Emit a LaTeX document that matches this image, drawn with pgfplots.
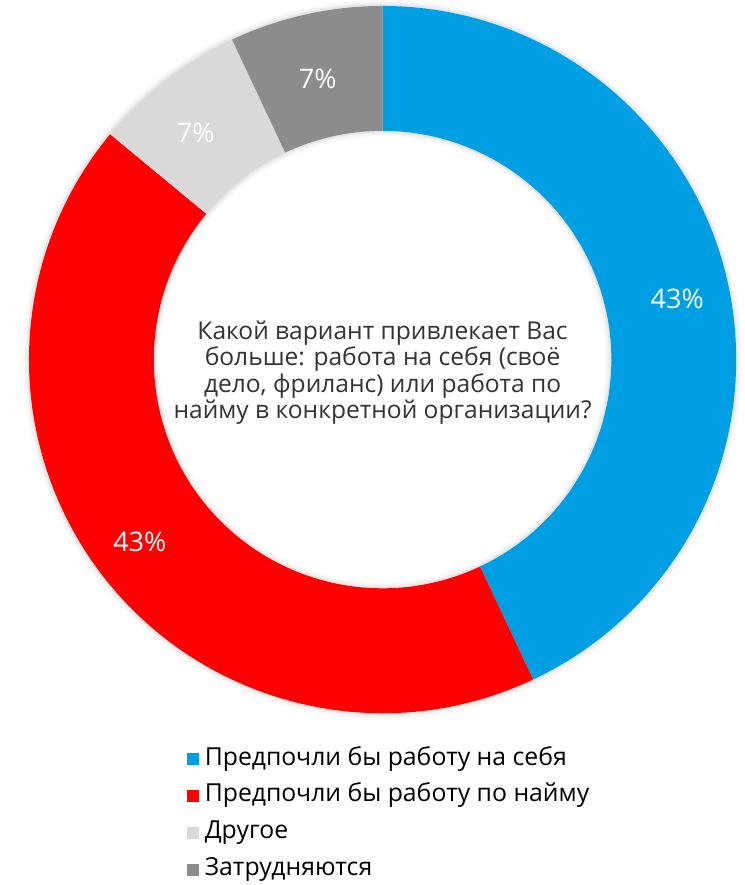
\documentclass[border=0pt]{standalone}
\usepackage{fontspec}
\setmainfont{Open Sans}
\usepackage{pgfplots}
\usepackage{pgfplotstable}
\pgfplotsset{compat=1.18}

\definecolor{cblue}{RGB}{0,158,227}
\definecolor{cred}{RGB}{255,0,0}
\definecolor{clight}{RGB}{217,217,217}
\definecolor{cdark}{RGB}{140,140,140}
\definecolor{ctext}{RGB}{51,51,51}

\pgfplotstableread{
value
43
43
7
7
}\piedata

\pgfplotstablegetelem{0}{value}\of\piedata \let\vA\pgfplotsretval
\pgfplotstablegetelem{1}{value}\of\piedata \let\vB\pgfplotsretval
\pgfplotstablegetelem{2}{value}\of\piedata \let\vC\pgfplotsretval
\pgfplotstablegetelem{3}{value}\of\piedata \let\vD\pgfplotsretval
\pgfmathsetmacro\aA{90}
\pgfmathsetmacro\aB{\aA-3.6*\vA}
\pgfmathsetmacro\aC{\aB-3.6*\vB}
\pgfmathsetmacro\aD{\aC-3.6*\vC}
\pgfmathsetmacro\aE{\aD-3.6*\vD}

% geometry in pixel units of the reference (1 px = 0.5 pt)
\def\cx{383}
\def\cy{526}
\def\ro{354}
\def\ri{229}

\newcommand\sector[3]{%
  \fill[#3] (axis cs:{\cx+\ro*cos(#1)},{\cy+\ro*sin(#1)})
    arc[start angle=#1,end angle=#2,radius=177pt]
    -- (axis cs:{\cx+\ri*cos(#2)},{\cy+\ri*sin(#2)})
    arc[start angle=#2,end angle=#1,radius=114.5pt] -- cycle;}
\newcommand\shadowring[2]{%
  \draw[black, opacity=#2, line width=#1pt] (axis cs:\cx,\cy) circle[radius=177pt];
  \draw[black, opacity=#2, line width=#1pt] (axis cs:\cx,\cy) circle[radius=114.5pt];}

\begin{document}%
\begin{tikzpicture}
\begin{axis}[
  x=0.5pt, y=0.5pt,
  xmin=0, xmax=745, ymin=0, ymax=885,
  hide axis, clip=false,
  legend image code/.code={\fill[#1,draw=none] (0pt,-3pt) rectangle (6pt,3pt);},
  legend style={at={(axis cs:187,137)}, anchor=north west,
    draw=none, fill=none, inner sep=0pt, outer sep=0pt,
    font=\fontsize{12.4}{14}\selectfont, text=black,
    row sep=7.2pt, column sep=3pt,
    nodes={inner sep=0pt, text height=8.5pt, text depth=2.7pt}},
  legend cell align=left,
]
\path (axis cs:0,0) rectangle (axis cs:745,885);
% soft shadow
\shadowring{6}{0.02}
\shadowring{4}{0.03}
\shadowring{2}{0.05}
\sector{\aA}{\aB}{cblue}
\sector{\aB}{\aC}{cred}
\sector{\aC}{\aD}{clight}
\sector{\aD}{\aE}{cdark}

\node[white, font=\fontsize{13.5}{15}\selectfont] at (axis cs:678,587) {\vA\%};
\node[white, font=\fontsize{13.5}{15}\selectfont] at (axis cs:140,344) {\vB\%};
\node[white, font=\fontsize{13.5}{15}\selectfont] at (axis cs:196,753) {\vC\%};
\node[white, font=\fontsize{13.5}{15}\selectfont] at (axis cs:318,807) {\vD\%};

\node[ctext, align=center, font=\fontsize{12.3}{13.3}\selectfont] at (axis cs:383,513)
  {Какой вариант привлекает Вас\\больше: работа на себя (своё\\дело, фриланс) или работа по\\найму в конкретной организации?};

\addlegendimage{fill=cblue}
\addlegendentry{Предпочли бы работу на себя}
\addlegendimage{fill=cred}
\addlegendentry{Предпочли бы работу по найму}
\addlegendimage{fill=clight}
\addlegendentry{Другое}
\addlegendimage{fill=cdark}
\addlegendentry{Затрудняются}
\end{axis}
\end{tikzpicture}%
\end{document}
